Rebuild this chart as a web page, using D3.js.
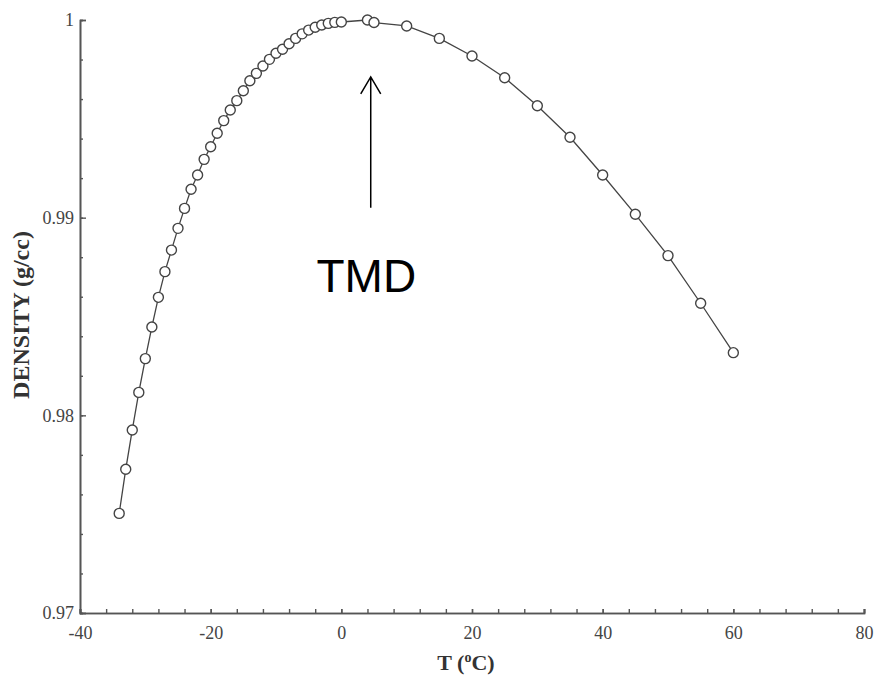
<!DOCTYPE html>
<html>
<head>
<meta charset="utf-8">
<style>
body { margin: 0; background: #fff; }
.axis path, .axis line { stroke: #555; }
.axis path { stroke-width: 1.6; }
.axis line { stroke-width: 1.4; }
.axis text { font-family: "Liberation Serif", serif; font-size: 18px; fill: #444; }
.label { font-family: "Liberation Serif", serif; font-weight: bold; fill: #333; }
</style>
</head>
<body>
<svg id="chart" width="874" height="677"></svg>
<script src="https://cdn.jsdelivr.net/npm/d3@7"></script>
<script>
// temperature (deg C) and density (g/cc)
var temps = [-34, -33, -32, -31, -30, -29, -28, -27, -26, -25, -24, -23, -22, -21, -20,
	-19, -18, -17, -16, -15, -14, -13, -12, -11, -10, -9, -8, -7, -6, -5, -4, -3, -2, -1, 0,
	4, 5, 10, 15, 20, 25, 30, 35, 40, 45, 50, 55, 60];
var density = [0.97504, 0.97727, 0.97926, 0.98116, 0.98287, 0.98447, 0.98597, 0.98727,
	0.98836, 0.98946, 0.99047, 0.99144, 0.99216, 0.99295, 0.99359, 0.99427, 0.99491,
	0.99545, 0.99592, 0.99642, 0.99693, 0.99730, 0.99767, 0.99801, 0.99832, 0.99852,
	0.99880, 0.99907, 0.99930, 0.99949, 0.99963, 0.99975, 0.99983, 0.99988, 0.99990,
	1.00000, 0.99987, 0.99970, 0.99907, 0.99818, 0.99708, 0.99566, 0.99407, 0.99216,
	0.99017, 0.98808, 0.98567, 0.98317];

var xMajor = [-40, -20, 0, 20, 40, 60, 80];
var yMajor = [0.97, 0.98, 0.99, 1];

// annotation position in data units
var tmdArrow = { t: 4.5, from: 0.9905, to: 0.99712 };
var tmdText = { t: -3.8, d: 0.98624, text: "TMD" };

var svg = d3.select("#chart");

var x = d3.scaleLinear().domain([-40, 80]).range([80, 864]);
var y = d3.scaleLinear().domain([0.97, 1]).range([613, 20]);

var data = temps.map(function(t, i) { return { t: t, d: density[i] }; });

// minor ticks
svg.append("g")
	.attr("class", "axis")
	.attr("transform", "translate(0,613)")
	.call(d3.axisBottom(x).tickValues(d3.range(-40, 81, 4)).tickSize(-4).tickFormat(""));

svg.append("g")
	.attr("class", "axis")
	.attr("transform", "translate(80,0)")
	.call(d3.axisLeft(y).tickValues(d3.range(0, 16).map(function(i) { return 0.97 + i * 0.002; }))
		.tickSize(-3).tickFormat(""));

// major ticks + labels
svg.append("g")
	.attr("class", "axis")
	.attr("transform", "translate(0,613)")
	.call(d3.axisBottom(x).tickValues(xMajor).tickSize(-4).tickPadding(13)
		.tickFormat(function(d) { return String(d); }));

svg.append("g")
	.attr("class", "axis")
	.attr("transform", "translate(80,0)")
	.call(d3.axisLeft(y).tickValues(yMajor).tickSize(-6).tickPadding(6)
		.tickFormat(function(d) { return String(+d.toFixed(2)); }));

// curve
var line = d3.line()
	.x(function(d) { return x(d.t); })
	.y(function(d) { return y(d.d); });

svg.append("path")
	.datum(data)
	.attr("fill", "none")
	.attr("stroke", "#444")
	.attr("stroke-width", 1.3)
	.attr("d", line);

svg.append("g")
	.selectAll("circle")
	.data(data)
	.enter().append("circle")
	.attr("cx", function(d) { return x(d.t); })
	.attr("cy", function(d) { return y(d.d); })
	.attr("r", 5)
	.attr("fill", "#fff")
	.attr("stroke", "#444")
	.attr("stroke-width", 1.4);

// TMD arrow
var ax = x(tmdArrow.t), y0 = y(tmdArrow.from), y1 = y(tmdArrow.to);
svg.append("path")
	.attr("fill", "none")
	.attr("stroke", "#000")
	.attr("stroke-width", 1.5)
	.attr("d", "M" + ax + "," + y0 + "L" + ax + "," + y1 +
		"M" + (ax - 10) + "," + (y1 + 17) + "L" + ax + "," + y1 + "L" + (ax + 10) + "," + (y1 + 17));

svg.append("text")
	.attr("x", x(tmdText.t))
	.attr("y", y(tmdText.d))
	.attr("font-family", "Liberation Sans, Arial, sans-serif")
	.attr("font-size", 46)
	.attr("fill", "#000")
	.text(tmdText.text);

// axis titles
var xt = svg.append("text")
	.attr("class", "label")
	.attr("x", 466)
	.attr("y", 670)
	.attr("text-anchor", "middle")
	.attr("font-size", 22);
xt.append("tspan").text("T (");
xt.append("tspan").attr("font-size", 14).attr("dy", -8).text("o");
xt.append("tspan").attr("dy", 8).text("C)");

svg.append("text")
	.attr("class", "label")
	.attr("transform", "translate(29,315) rotate(-90)")
	.attr("text-anchor", "middle")
	.attr("font-size", 24)
	.text("DENSITY (g/cc)");
</script>
</body>
</html>
